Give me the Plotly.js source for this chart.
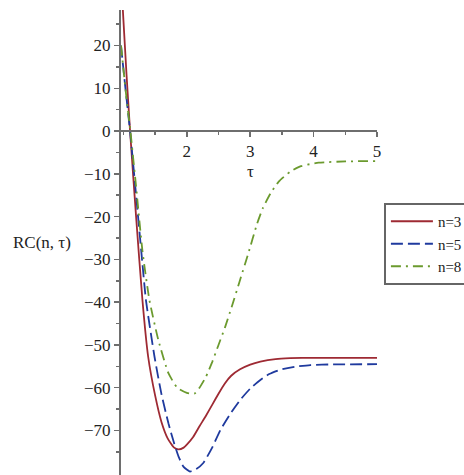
<!DOCTYPE html>
<html>
<head>
<meta charset="utf-8">
<script src="https://cdn.plot.ly/plotly-3.0.1.min.js"></script>
<style>html,body{margin:0;padding:0;background:#fff;}#chart{width:464px;height:475px;}</style>
</head>
<body>
<div id="chart"></div>
<script>
// Data
const tau3 = [0.962, 1.0, 1.05, 1.105, 1.2, 1.3, 1.39, 1.5, 1.6, 1.7, 1.8, 1.87, 1.95, 2.0, 2.1, 2.2, 2.3, 2.4, 2.5, 2.6, 2.7, 2.84, 3.0, 3.16, 3.4, 3.63, 4.0, 4.5, 5.0];
const rc3  = [36, 26, 13, 0, -20, -39.5, -52.7, -61.8, -68.0, -71.9, -74.0, -74.4, -74.0, -73.3, -71.5, -69.0, -66.6, -64.0, -61.4, -59.0, -57.2, -55.7, -54.6, -53.9, -53.3, -53.1, -53.0, -53.0, -53.0];

const tau5 = [0.962, 1.0, 1.05, 1.105, 1.2, 1.3, 1.355, 1.49, 1.6, 1.71, 1.8, 1.87, 1.95, 2.05, 2.15, 2.26, 2.4, 2.53, 2.7, 2.84, 3.0, 3.16, 3.3, 3.47, 3.7, 3.95, 4.3, 5.0];
const rc5  = [20, 14.5, 7.5, 0, -15, -31, -39.5, -52.7, -61.5, -68.3, -73.0, -76.1, -78.5, -79.6, -79.0, -77.6, -74, -69.9, -65.8, -62.9, -60.2, -58.2, -56.8, -55.8, -55.1, -54.7, -54.55, -54.5];

const tau8 = [0.962, 1.0, 1.05, 1.11, 1.2, 1.3, 1.41, 1.55, 1.71, 1.85, 2.0, 2.07, 2.13, 2.2, 2.3, 2.4, 2.5, 2.6, 2.71, 2.84, 2.97, 3.11, 3.2, 3.32, 3.45, 3.63, 3.8, 4.08, 4.5, 5.0];
const rc8  = [20, 14.5, 7.5, 0, -13, -28, -39.5, -48.8, -56.6, -60, -61.2, -61.4, -61.3, -60, -57.5, -54, -50, -46, -41, -34.8, -28.6, -21.6, -18, -14.6, -11.8, -9.5, -8.2, -7.4, -7.1, -7.0];

const seriesNames = ['n=3', 'n=5', 'n=8'];
const xTickVals = [2, 3, 4, 5];
const xMinorVals = [1, 1.5, 2.5, 3.5, 4.5];
const yTickVals = [20, 10, 0, -10, -20, -30, -40, -50, -60, -70];
const yMinorVals = [25, 15, 5, -5, -15, -25, -35, -45, -55, -65, -75];

const serif = 'Liberation Serif';
const axisCol = '#6e6e6e';
const txtCol = '#222';
const fs = 17;

const traces = [
  {x: tau3, y: rc3, name: seriesNames[0], mode: 'lines', line: {color: '#9e2a33', width: 1.8, shape: 'spline', smoothing: 0.5}},
  {x: tau5, y: rc5, name: seriesNames[1], mode: 'lines', line: {color: '#1f3a9e', width: 1.8, dash: '12px,5px', shape: 'spline', smoothing: 0.5}},
  {x: tau8, y: rc8, name: seriesNames[2], mode: 'lines', line: {color: '#6b9a2e', width: 1.8, dash: '10px,5px,2px,5px', shape: 'spline', smoothing: 0.5}}
];

const yMin = -80.4, yMax = 28.3;

const layout = {
  width: 464, height: 475,
  margin: {l: 121, r: 87, t: 10, b: 0, autoexpand: false},
  paper_bgcolor: '#fff', plot_bgcolor: '#fff',
  showlegend: true,
  font: {family: serif, size: fs, color: txtCol},
  xaxis: {
    range: [0.962, 5], anchor: 'free', position: (0 - yMin) / (yMax - yMin),
    showgrid: false, zeroline: false, showline: true, linecolor: axisCol, linewidth: 2,
    tickmode: 'array', tickvals: xTickVals, ticks: 'outside', ticklen: 5, tickwidth: 1.5, tickcolor: axisCol,
    tickfont: {family: serif, size: fs, color: txtCol},
    minor: {tickmode: 'array', tickvals: xMinorVals, ticks: 'outside', ticklen: 3, tickwidth: 1.5, tickcolor: axisCol, showgrid: false}
  },
  yaxis: {
    range: [yMin, yMax],
    showgrid: false, zeroline: false, showline: true, linecolor: axisCol, linewidth: 2,
    tickmode: 'array', tickvals: yTickVals, ticks: 'outside', ticklen: 5, tickwidth: 1.5, tickcolor: axisCol,
    tickfont: {family: serif, size: fs, color: txtCol},
    minor: {tickmode: 'array', tickvals: yMinorVals, ticks: 'outside', ticklen: 3, tickwidth: 1.5, tickcolor: axisCol, showgrid: false}
  },
  legend: {
    x: 1.027, xanchor: 'left', y: 0.585, yanchor: 'top',
    bordercolor: '#666', borderwidth: 2, bgcolor: '#fff',
    font: {family: serif, size: 15, color: txtCol},
    itemwidth: 42,
    tracegroupgap: 0
  },
  annotations: [
    {text: 'RC(n, τ)', xref: 'paper', yref: 'paper', x: -0.309, y: 0.499, xanchor: 'center', yanchor: 'middle', showarrow: false, font: {family: serif, size: fs, color: txtCol}},
    {text: 'τ', xref: 'x', yref: 'paper', x: 3, y: 0.652, xanchor: 'center', yanchor: 'middle', showarrow: false, font: {family: serif, size: fs, color: txtCol}}
  ]
};

Plotly.newPlot('chart', traces, layout, {staticPlot: true, displayModeBar: false});
</script>
</body>
</html>
